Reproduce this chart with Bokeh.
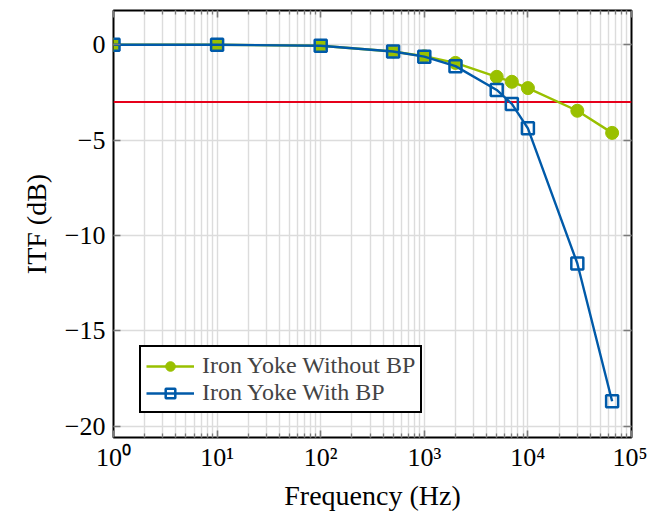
from bokeh.plotting import figure
from bokeh.models import (FixedTicker, LinearAxis, LogAxis, Span, Legend, LegendItem)
from bokeh.embed import file_html
from bokeh.resources import INLINE

# ---- data ----
freq = [1, 10, 100, 500, 1000, 2000, 5000, 7000, 10000, 30000, 65000]
itf_without_bp = [0.0, 0.0, -0.05, -0.35, -0.6, -0.95, -1.68, -1.94, -2.27, -3.46, -4.62]
itf_with_bp = [0.0, 0.0, -0.05, -0.35, -0.62, -1.12, -2.37, -3.1, -4.38, -11.47, -18.7]
threshold_db = -3.0

x_major = [1, 10, 100, 1000, 10000, 100000]
x_labels = ["10⁰", "10¹", "10²", "10³", "10⁴", "10⁵"]
x_minor = [m * d for d in [1, 10, 100, 1000, 10000] for m in range(2, 10)]
y_major = [-20, -15, -10, -5, 0]
y_labels = ["−20", "−15", "−10", "−5", "0"]

label_names = ["Iron Yoke Without BP", "Iron Yoke With BP"]

GREEN = "#99C000"
BLUE = "#005AA9"
RED = "#E6001A"
FONT = "Liberation Serif"

p = figure(frame_width=518, frame_height=427, x_axis_type="log",
           x_range=(1, 1e5), y_range=(-20.6, 1.8),
           output_backend="svg", toolbar_location=None,
           min_border_left=113, min_border_right=16,
           min_border_top=10, min_border_bottom=70)
p.outline_line_color = "black"
p.outline_line_width = 2

xt = FixedTicker(ticks=x_major, minor_ticks=x_minor)
yt = FixedTicker(ticks=y_major, minor_ticks=[])

p.xaxis.ticker = xt
p.yaxis.ticker = yt
p.xaxis.major_label_overrides = {v: l for v, l in zip(x_major, x_labels)}
p.yaxis.major_label_overrides = {v: l for v, l in zip(y_major, y_labels)}

for ax in [p.xaxis[0], p.yaxis[0]]:
    ax.axis_line_color = None
    ax.major_tick_in = 7
    ax.major_tick_out = 0
    ax.minor_tick_in = 4
    ax.minor_tick_out = 0
    ax.major_tick_line_color = "#7a7a7a"
    ax.minor_tick_line_color = "#7a7a7a"
    ax.major_tick_line_width = 1.6
    ax.minor_tick_line_width = 1.3
    ax.major_label_text_font = FONT
    ax.major_label_text_font_size = "26px"
    ax.major_label_text_color = "black"
    ax.axis_label_text_font = FONT
    ax.axis_label_text_font_size = "28px"
    ax.axis_label_text_font_style = "normal"
    ax.axis_label_text_color = "black"

p.xaxis.major_label_standoff = 5
p.yaxis.major_label_standoff = 8
p.xaxis.axis_label = "Frequency (Hz)"
p.yaxis.axis_label = "ITF (dB)"
p.xaxis.axis_label_standoff = 5
p.yaxis.axis_label_standoff = 10

# mirrored tick axes (top / right), labels hidden
top = LogAxis(ticker=xt, major_tick_in=7, major_tick_out=0, minor_tick_in=4, minor_tick_out=0,
              major_tick_line_color="#7a7a7a", minor_tick_line_color="#7a7a7a",
              major_tick_line_width=1.6, minor_tick_line_width=1.3,
              axis_line_color=None, major_label_text_font_size="1px",
              major_label_text_color=None, major_label_standoff=0)
right = LinearAxis(ticker=yt, major_tick_in=8, major_tick_out=0, minor_tick_in=0, minor_tick_out=0,
                   major_tick_line_color="#7a7a7a", major_tick_line_width=1.6,
                   axis_line_color=None, major_label_text_font_size="1px",
                   major_label_text_color=None, major_label_standoff=0)
p.add_layout(top, "above")
p.add_layout(right, "right")

p.xgrid.grid_line_color = "#dcdcdc"
p.xgrid.grid_line_width = 1.4
p.xgrid.minor_grid_line_color = "#dcdcdc"
p.xgrid.minor_grid_line_width = 1.4
p.ygrid.grid_line_color = "#dcdcdc"
p.ygrid.grid_line_width = 1.4

span = Span(location=threshold_db, dimension="width", line_color=RED, line_width=2, level="underlay")
p.add_layout(span)

l1 = p.line(freq, itf_without_bp, line_color=GREEN, line_width=2.4)
s1 = p.scatter(freq, itf_without_bp, marker="circle", size=13, fill_color=GREEN, line_color=GREEN)
l2 = p.line(freq, itf_with_bp, line_color=BLUE, line_width=2.4)
s2 = p.scatter(freq, itf_with_bp, marker="square", size=12, fill_alpha=0, line_color=BLUE, line_width=2.5)

legend = Legend(items=[LegendItem(label=label_names[0], renderers=[l1, s1]),
                       LegendItem(label=label_names[1], renderers=[l2, s2])],
                location=(26, 24), border_line_color="black", border_line_width=2,
                border_line_alpha=1,
                label_text_font=FONT, label_text_font_size="24px",
                glyph_width=48, glyph_height=24, label_standoff=8,
                padding=5, spacing=0, margin=0, background_fill_alpha=1)
p.add_layout(legend)

open("out.html", "w").write(file_html(p, INLINE))
